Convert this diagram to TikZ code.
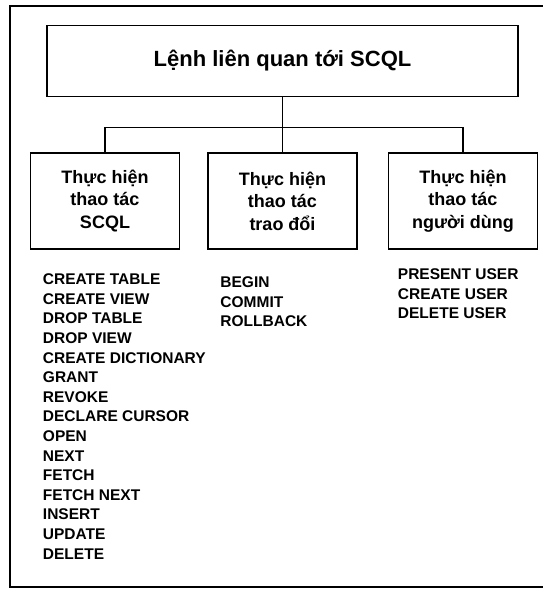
\documentclass[tikz,border=0pt]{standalone}
\usepackage{fontspec}
\setmainfont{Liberation Sans}
\usetikzlibrary{positioning}

\tikzset{
    cmdbox/.style={draw, line width=1.5pt, minimum width=149pt, minimum height=96pt,
        inner sep=0pt, align=center, font=\fontsize{18}{22.5}\selectfont\bfseries},
    cmdlist/.style={inner sep=0pt, align=left, font=\fontsize{15.5}{19.6}\selectfont\bfseries},
}

\begin{document}
\begin{tikzpicture}[x=1pt, y=-1pt]
            \useasboundingbox (0,0) rectangle (543,589);
            \draw[line width=1.3pt] (543,6) -- (10,6) -- (10,587) -- (543,587);
            % hop cap tren
            \node[draw, line width=1.5pt, minimum width=471pt, minimum height=71pt,
                font=\fontsize{22}{26}\selectfont\bfseries] (top) at (282.5,61) {Lệnh liên quan tới SCQL};
            % ba nhom lenh
            \node[cmdbox, below=55pt of top] (b2) {Thực hiện\\thao tác\\trao đổi};
            \node[cmdbox, left=27pt of b2] (b1) {Thực hiện\\thao tác\\SCQL};
            \node[cmdbox, right=30pt of b2] (b3) {Thực hiện\\thao tác\\người dùng};
            \draw[line width=1.2pt] (top.south) -- (b2.north);
            \draw[line width=1.2pt] (top.south) -- ++(0,30) -| (b1.north);
            \draw[line width=1.2pt] (top.south) -- ++(0,30) -| (b3.north);
            % danh sach lenh
            \node[cmdlist, below right=24pt and 13pt of b1.south west] (l1) {CREATE TABLE\\CREATE VIEW\\DROP TABLE\\DROP VIEW\\CREATE DICTIONARY\\GRANT\\REVOKE\\DECLARE CURSOR\\OPEN\\NEXT\\FETCH\\FETCH NEXT\\INSERT\\UPDATE\\DELETE};
            \node[cmdlist, below right=27pt and 13pt of b2.south west] (l2) {BEGIN\\COMMIT\\ROLLBACK};
            \node[cmdlist, below right=19pt and 10pt of b3.south west] (l3) {PRESENT USER\\CREATE USER\\DELETE USER};
        \end{tikzpicture}
\end{document}
